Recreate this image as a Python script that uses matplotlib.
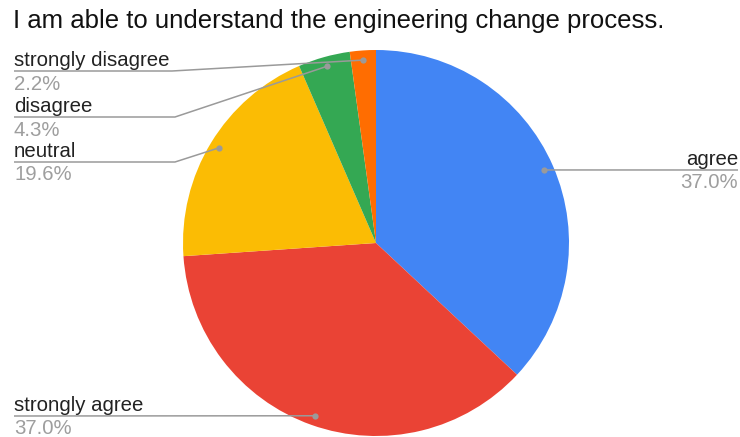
import numpy as np
import matplotlib
matplotlib.use("Agg")
import matplotlib.pyplot as plt

W, H = 740, 437

title = "I am able to understand the engineering change process."
labels = ["agree", "strongly agree", "neutral", "disagree", "strongly disagree"]
counts = [17, 17, 9, 2, 1]
colors = ["#4285F4", "#EA4335", "#FBBC04", "#34A853", "#FF6D01"]

# label layout in pixel coords: (text x, line y, align, elbow x)
label_pos = {
    "agree": (738, 170, "right", None),
    "strongly agree": (14, 416, "left", None),
    "neutral": (14, 162, "left", 175),
    "disagree": (14, 117, "left", 175),
    "strongly disagree": (14, 71, "left", 172),
}

plt.rcParams['font.family'] = ['Liberation Sans', 'DejaVu Sans']

fig = plt.figure(figsize=(W / 100, H / 100), dpi=100)
ax = fig.add_axes([0, 0, 1, 1])

cx, cy, R = 376, H - 243, 193
wedges, _ = ax.pie(counts, colors=colors, startangle=90, counterclock=False,
                   center=(cx, cy), radius=R, frame=True,
                   wedgeprops=dict(linewidth=0))
ax.set_xlim(0, W)
ax.set_ylim(0, H)
ax.axis('off')

total = float(sum(counts))
line_col = "#9a9a9a"
for w, lab, c in zip(wedges, labels, counts):
    mid = np.deg2rad((w.theta1 + w.theta2) / 2)
    px = cx + 0.95 * R * np.cos(mid)
    py = cy + 0.95 * R * np.sin(mid)
    tx, ly, ha, elbow = label_pos[lab]
    ly = H - ly
    if elbow is None:
        xs, ys = [tx, px], [ly, py]
    else:
        xs, ys = [tx, elbow, px], [ly, ly, py]
    ax.plot(xs, ys, color=line_col, lw=1.1, solid_capstyle='butt')
    ax.plot([px], [py], 'o', color=line_col, ms=4.5, mec='none')
    ax.text(tx, ly + 5, lab, ha=ha, va='baseline', fontsize=14.7, color="#222222")
    ax.text(tx, ly - 18.5, "%.1f%%" % (100 * c / total), ha=ha, va='baseline',
            fontsize=14.7, color="#9e9e9e")

fig.text(13 / W, 1 - 28 / H, title, ha='left', va='baseline', fontsize=18.5, color="#111111")

fig.savefig("out.png", dpi=100)
